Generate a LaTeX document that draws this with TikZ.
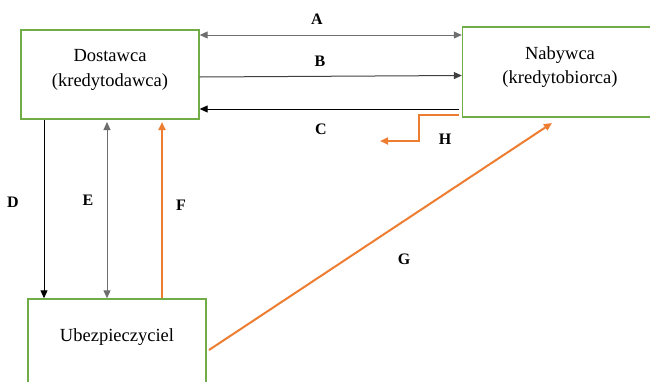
\documentclass[tikz,border=0pt]{standalone}
\usepackage{fontspec}
\setmainfont{Liberation Serif}
\newfontfamily\tnr{Liberation Serif}
\usetikzlibrary{arrows.meta}
\definecolor{boxgreen}{RGB}{112,173,71}
\definecolor{orng}{RGB}{237,125,49}
\definecolor{lgray}{RGB}{110,110,110}
\begin{document}
\begin{tikzpicture}[x=1pt,y=-1pt,
  box/.style={draw=boxgreen,line width=1.4pt,rectangle,inner sep=0pt},
  boxtext/.style={font=\tnr\fontsize{18.5}{24.5}\selectfont,align=center,inner sep=0pt},
  lbl/.style={font=\tnr\fontsize{16}{18}\selectfont\bfseries,inner sep=0pt},
  tip/.style={-{Triangle[length=8pt,width=7pt]}},
  tips/.style={{Triangle[length=8pt,width=7pt]}-{Triangle[length=8pt,width=7pt]}},
  conn/.style={line width=1pt},
  oconn/.style={draw=orng,line width=2pt}]
\useasboundingbox (0,0) rectangle (650,381);
\clip (0,0) rectangle (650,381);
\fill[white] (0,0) rectangle (650,381);

\node[box,minimum width=178pt,minimum height=89pt] (dos) at (110,74.5) {};
\node[boxtext] (dost) at (110,70) {Dostawca\\(kredytodawca)};
\node[box,minimum width=195pt,minimum height=90pt] (nab) at (560,72) {};
\node[boxtext] (nabt) at (560,67) {Nabywca\\(kredytobiorca)};
\node[box,minimum width=178pt,minimum height=100pt] (ubz) at (117,349) {};
\node[boxtext] (ubzt) at (117,337) {Ubezpieczyciel};

% A
\draw[conn,tips,draw=lgray] (dos.east |- 0,35) -- (nab.west |- 0,35);
% B
\draw[conn,tip,draw=black!75] (dos.east |- 0,77) -- (nab.west |- 0,75.5);
% C
\draw[conn,tip] (459,109) -- (dos.east |- 0,109);
% H
\coordinate (hend) at (380,141);
\draw[oconn,tip] (459,115) -- (419,115) -- (419,141) -- (hend);
% D
\draw[conn,tip] (44,120) -- (ubz.north -| 44,0);
% E
\draw[conn,tips,draw=lgray] (107,122) -- (ubz.north -| 107,0);
% F
\draw[oconn,tip] (ubz.north -| 162,0) -- (162,122);
% G
\draw[oconn,tip] (209,350) -- (552,123);

\node[lbl] (la) at (317,19) {A};
\node[lbl] (lb) at (320,61) {B};
\node[lbl] (lc) at (321,129) {C};
\node[lbl] (lh) at (445,139) {H};
\node[lbl] (ld) at (13,202) {D};
\node[lbl] (le) at (88,200) {E};
\node[lbl] (lf) at (181,205) {F};
\node[lbl] (lg) at (404,259) {G};
\end{tikzpicture}
\end{document}
